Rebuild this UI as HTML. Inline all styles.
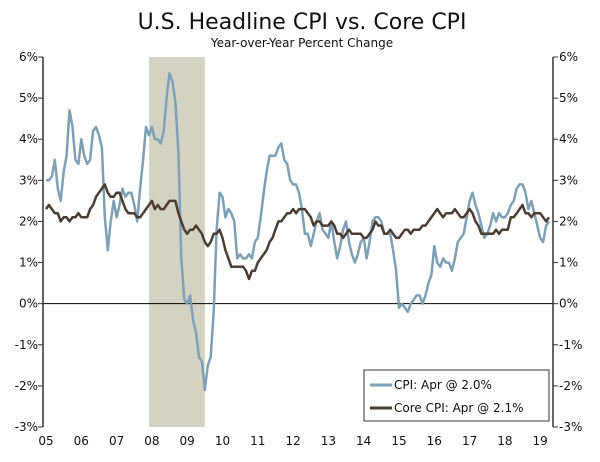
<!DOCTYPE html>
<html><head><meta charset="utf-8"><style>
body{margin:0;background:#fff;width:600px;height:457px;overflow:hidden}
text{font-family:"DejaVu Sans","Liberation Sans",sans-serif}
</style></head><body>
<svg id="chart" width="600" height="457">
<text x="302" y="29" text-anchor="middle" font-size="22" fill="#111">U.S. Headline CPI vs. Core CPI</text>
<text x="302" y="47" text-anchor="middle" font-size="12" fill="#111">Year-over-Year Percent Change</text>
<g id="g"></g>
</svg>
<script>
const yearLabels=["05","06","07","08","09","10","11","12","13","14","15","16","17","18","19"];
const yTicks=[-3,-2,-1,0,1,2,3,4,5,6];
const recession=[2007.92,2009.5];
const cpi=[3.0,3.0,3.1,3.5,2.8,2.5,3.2,3.6,4.7,4.3,3.5,3.4,
4.0,3.6,3.4,3.5,4.2,4.3,4.1,3.8,2.1,1.3,2.0,2.5,
2.1,2.4,2.8,2.6,2.7,2.7,2.4,2.0,2.8,3.5,4.3,4.1,
4.3,4.0,4.0,3.9,4.2,5.0,5.6,5.4,4.9,3.7,1.1,0.1,
0.0,0.2,-0.4,-0.7,-1.3,-1.4,-2.1,-1.5,-1.3,-0.2,1.8,2.7,
2.6,2.1,2.3,2.2,2.0,1.1,1.2,1.1,1.1,1.2,1.1,1.5,
1.6,2.1,2.7,3.2,3.6,3.6,3.6,3.8,3.9,3.5,3.4,3.0,
2.9,2.9,2.7,2.3,1.7,1.7,1.4,1.7,2.0,2.2,1.8,1.7,
1.6,2.0,1.5,1.1,1.4,1.8,2.0,1.5,1.2,1.0,1.2,1.5,
1.6,1.1,1.5,2.0,2.1,2.1,2.0,1.7,1.7,1.7,1.3,0.8,
-0.1,0.0,-0.1,-0.2,0.0,0.1,0.2,0.2,0.0,0.2,0.5,0.7,
1.4,1.0,0.9,1.1,1.0,1.0,0.8,1.1,1.5,1.6,1.7,2.1,
2.5,2.7,2.4,2.2,1.9,1.6,1.7,1.9,2.2,2.0,2.2,2.1,
2.1,2.2,2.4,2.5,2.8,2.9,2.9,2.7,2.3,2.5,2.2,1.9,
1.6,1.5,1.9,2.0];
const core=[2.3,2.4,2.3,2.2,2.2,2.0,2.1,2.1,2.0,2.1,2.1,2.2,
2.1,2.1,2.1,2.3,2.4,2.6,2.7,2.8,2.9,2.7,2.6,2.6,
2.7,2.7,2.5,2.3,2.2,2.2,2.2,2.1,2.1,2.2,2.3,2.4,
2.5,2.3,2.4,2.3,2.3,2.4,2.5,2.5,2.5,2.2,2.0,1.8,
1.7,1.8,1.8,1.9,1.8,1.7,1.5,1.4,1.5,1.7,1.7,1.8,
1.6,1.3,1.1,0.9,0.9,0.9,0.9,0.9,0.8,0.6,0.8,0.8,
1.0,1.1,1.2,1.3,1.5,1.6,1.8,2.0,2.0,2.1,2.2,2.2,
2.3,2.2,2.3,2.3,2.3,2.2,2.1,1.9,2.0,2.0,1.9,1.9,
1.9,2.0,1.9,1.7,1.7,1.6,1.7,1.8,1.7,1.7,1.7,1.7,
1.6,1.6,1.7,1.8,2.0,1.9,1.9,1.7,1.7,1.8,1.7,1.6,
1.6,1.7,1.8,1.8,1.7,1.8,1.8,1.8,1.9,1.9,2.0,2.1,
2.2,2.3,2.2,2.1,2.2,2.2,2.2,2.3,2.2,2.1,2.1,2.2,
2.3,2.2,2.0,1.9,1.7,1.7,1.7,1.7,1.7,1.8,1.7,1.8,
1.8,1.8,2.1,2.1,2.2,2.3,2.4,2.2,2.2,2.1,2.2,2.2,
2.2,2.1,2.0,2.1];
const L=43,R=553,T=57,B=427;
const xs=t=>46+(t-2005)*35.3;
const ys=v=>T+(6-v)*(B-T)/9;
const g=document.getElementById('g');
const NS='http://www.w3.org/2000/svg';
function mk(tag,attrs,parent){const e=document.createElementNS(NS,tag);for(const k in attrs)e.setAttribute(k,attrs[k]);(parent||g).appendChild(e);return e;}
const rec=mk('rect',{x:xs(recession[0]),y:T,width:xs(recession[1])-xs(recession[0]),height:B-T,fill:'#d4d3c3'});


const zl=mk('line',{x1:L,x2:R,y1:ys(0),y2:ys(0),stroke:'#000','stroke-width':1});


const la=mk('line',{x1:L,x2:L,y1:T,y2:B,stroke:'#333','stroke-width':1.5});


const ra=mk('line',{x1:R,x2:R,y1:T,y2:B,stroke:'#333','stroke-width':1.5});


yTicks.forEach(v=>{
 const y=ys(v);
 mk('line',{x1:L-5,x2:L,y1:y,y2:y,stroke:'#333'});
 mk('line',{x1:R,x2:R+5,y1:y,y2:y,stroke:'#333'});
 const a=mk('text',{x:L-5,y:y+4,'text-anchor':'end','font-size':12,fill:'#111'});a.textContent=v+'%';
 
 
 const b=mk('text',{x:R+6,y:y+4,'font-size':12,fill:'#111'});b.textContent=v+'%';
 
 
});
yearLabels.forEach((l,i)=>{
 const t=mk('text',{x:xs(2005+i),y:445,'text-anchor':'middle','font-size':12,fill:'#111'});t.textContent=l;
 
 
});
function pts(arr){return arr.map((v,i)=>xs(2005+i/12).toFixed(1)+','+ys(v).toFixed(1)).join(' ');}
const p1=mk('polyline',{points:pts(cpi),fill:'none',stroke:'#7f9fb5','stroke-width':2.5,'stroke-linejoin':'round'});


const p2=mk('polyline',{points:pts(core),fill:'none',stroke:'#4a3d33','stroke-width':2.5,'stroke-linejoin':'round'});


const lg=mk('g',{});


mk('rect',{x:364,y:370,width:185,height:51,fill:'#fff',stroke:'#333'},lg);
mk('line',{x1:370,x2:392,y1:385,y2:385,stroke:'#7f9fb5','stroke-width':3},lg);
const t1=mk('text',{x:394,y:389,'font-size':12,fill:'#111'},lg);t1.textContent='CPI: Apr @ 2.0%';


mk('line',{x1:370,x2:392,y1:408,y2:408,stroke:'#4a3d33','stroke-width':3},lg);
const t2=mk('text',{x:394,y:412,'font-size':12,fill:'#111'},lg);t2.textContent='Core CPI: Apr @ 2.1%';


</script>
</body></html>
